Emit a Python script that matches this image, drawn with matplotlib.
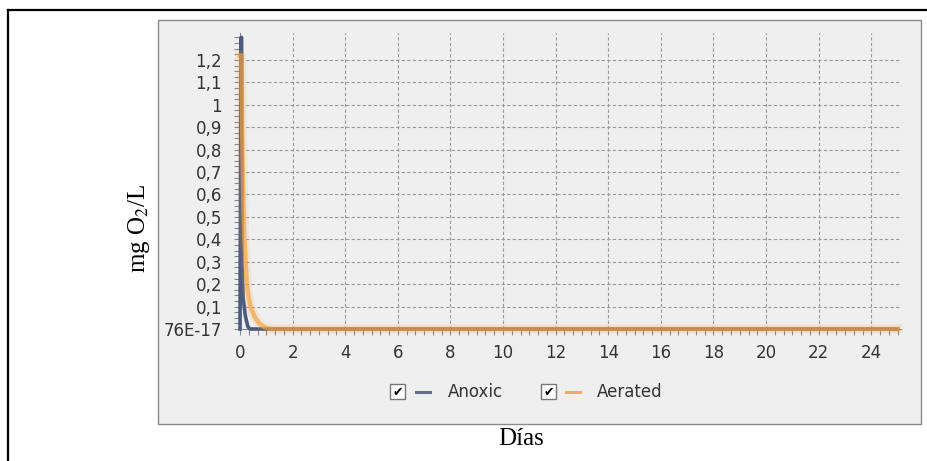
import matplotlib
matplotlib.use("Agg")
import matplotlib.pyplot as plt
from matplotlib.patches import Rectangle
from matplotlib.lines import Line2D
from matplotlib.ticker import MultipleLocator, FixedLocator, FixedFormatter

# ---- data ----
anoxic_days = [0, 0.04, 0.06, 0.08, 0.12, 0.2, 0.3, 0.38, 25]
anoxic_o2 = [0, 1.30, 1.30, 0.27, 0.14, 0.06, 0.01, 0, 0]

aerated_days = [0, 0.05, 0.08, 0.12, 0.16, 0.2, 0.25, 0.3, 0.4, 0.5, 0.6, 0.7, 0.8, 0.9, 1.0, 1.2, 25]
aerated_o2 = [1.22, 1.22, 0.9, 0.6, 0.42, 0.33, 0.22, 0.16, 0.1, 0.07, 0.045, 0.03, 0.018, 0.01, 0.005, 0, 0]

x_ticks = list(range(0, 25, 2))
y_ticks = [0, 0.1, 0.2, 0.3, 0.4, 0.5, 0.6, 0.7, 0.8, 0.9, 1.0, 1.1, 1.2]
y_tick_labels = ["76E-17", "0,1", "0,2", "0,3", "0,4", "0,5", "0,6", "0,7", "0,8", "0,9", "1", "1,1", "1,2"]

series_names = ["Anoxic", "Aerated"]
anoxic_color = "#4b5a7d"
aerated_color = "#f3a23f"

plt.rcParams["mathtext.fontset"] = "stix"

W, H = 928, 461
fig = plt.figure(figsize=(W / 100, H / 100), dpi=100)
fig.patch.set_facecolor("white")

def fx(px):
    return px / W

def fy(py):
    return 1 - py / H

# outer frame (top and left visible)
fig.add_artist(Line2D([fx(8), 1.0], [fy(10), fy(10)], color="black", lw=1.6, transform=fig.transFigure))
fig.add_artist(Line2D([fx(8), fx(8)], [fy(10), 0.0], color="black", lw=1.6, transform=fig.transFigure))

# gray chart panel
panel = Rectangle((fx(158), fy(424)), (921 - 158) / W, (424 - 20) / H,
                  transform=fig.transFigure, facecolor="#efefef",
                  edgecolor="#8a8a8a", lw=1.0, zorder=-1)
fig.add_artist(panel)

ax = fig.add_axes([fx(240), fy(329), (901 - 240) / W, (329 - 33) / H])
ax.set_facecolor("none")
ax.set_xlim(0, 25.13)
ax.set_ylim(0, 1.32)

ax.xaxis.set_major_locator(FixedLocator(x_ticks))
ax.xaxis.set_minor_locator(MultipleLocator(1 / 3))
ax.yaxis.set_major_locator(FixedLocator(y_ticks))
ax.yaxis.set_major_formatter(FixedFormatter(y_tick_labels))
ax.yaxis.set_minor_locator(MultipleLocator(0.025))

for s in ["top", "right"]:
    ax.spines[s].set_visible(False)
for s in ["left", "bottom"]:
    ax.spines[s].set_color("#8a8a8a")

ax.grid(True, which="major", color="#9a9a9a", lw=0.8, linestyle=(0, (3, 2)))
ax.tick_params(which="both", direction="out", length=4, color="#8a8a8a", width=0.8)
ax.tick_params(axis="y", which="major", pad=9, labelsize=12, labelcolor="#333333")
ax.tick_params(axis="x", which="major", pad=7, labelsize=12, labelcolor="#333333")

ax.plot(anoxic_days, anoxic_o2, color=anoxic_color, lw=2.6, zorder=3, clip_on=False)
ax.plot(aerated_days, aerated_o2, color=aerated_color, lw=7, alpha=0.15, zorder=4, clip_on=False)
ax.plot(aerated_days, aerated_o2, color=aerated_color, lw=3.2, alpha=0.68, zorder=5, clip_on=False)

# legend with checkboxes
def legend_item(box_x, line_x, text_x, color, label):
    yc = 392
    fig.add_artist(Rectangle((fx(box_x), fy(yc + 7)), 15 / W, 15 / H, transform=fig.transFigure,
                             facecolor="white", edgecolor="#777777", lw=1.0))
    fig.text(fx(box_x + 7.5), fy(yc + 0.5), "\u2714", ha="center", va="center", fontsize=9,
             color="black", family="DejaVu Sans")
    fig.add_artist(Line2D([fx(line_x), fx(line_x + 14)], [fy(yc), fy(yc)], color=color, lw=2.2,
                          alpha=0.85, transform=fig.transFigure))
    fig.text(fx(text_x), fy(yc), label, ha="left", va="center", fontsize=12,
             color="#333333", family="DejaVu Sans")

legend_item(390, 416, 448, anoxic_color, series_names[0])
legend_item(541, 566, 597, aerated_color, series_names[1])

fig.text(fx(139), fy(228), "mg O$_2$/L", rotation=90, ha="center", va="center",
         fontsize=18, family="Liberation Serif")
fig.text(fx(521), fy(445), "Días", ha="center", va="baseline",
         fontsize=18, family="Liberation Serif")

fig.savefig("out.png", dpi=100)
